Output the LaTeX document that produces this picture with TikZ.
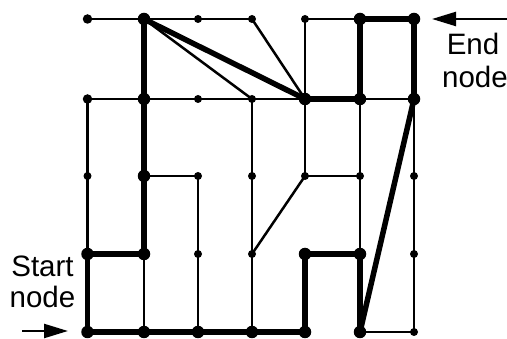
\documentclass[tikz,border=0pt]{standalone}
\usepackage{fontspec}
\setmainfont{Liberation Sans}
\usetikzlibrary{arrows.meta}
\begin{document}
\begin{tikzpicture}[x=1pt,y=-1pt,
  thinedge/.style={line width=2.5pt},
  thickedge/.style={line width=5.5pt,line cap=round},
  dotS/.style={circle,fill=black,inner sep=0pt,minimum size=8pt},
  dotM/.style={circle,fill=black,inner sep=0pt,minimum size=9.5pt},
  dotB/.style={circle,fill=black,inner sep=0pt,minimum size=12.5pt},
  lbl/.style={inner sep=0pt,anchor=base,font=\fontsize{29.5}{32}\selectfont},
  pointer/.style={line width=2.3pt,-{Triangle[length=24pt,width=14pt]}}]
\useasboundingbox (0,0) rectangle (507,339);
% grid coordinates
\foreach \c/\x in {0/87.5,1/144,2/198,3/252,4/305,5/360,6/414}{
  \foreach \r/\y in {0/19,1/99,2/176,3/254,4/332}{
    \coordinate (p\c\r) at (\x,\y);
  }
}
% thin edges
\draw[thinedge] (p00) -- (p10) -- (p20) -- (p30);
\draw[thinedge] (p40) -- (p50);
\draw[thinedge] (p10) -- (p31);
\draw[thinedge] (p30) -- (p41);
\draw[thinedge] (p40) -- (p41);
\draw[thinedge] (p01) -- (p11) -- (p21) -- (p31) -- (p41);
\draw[thinedge] (p51) -- (p61);
\draw[thinedge] (p01) -- (p03);
\draw[thinedge] (p13) -- (p14);
\draw[thinedge] (p22) -- (p24);
\draw[thinedge] (p31) -- (p34);
\draw[thinedge] (p41) -- (p42);
\draw[thinedge] (p42) -- (p33);
\draw[thinedge] (p12) -- (p22);
\draw[thinedge] (p42) -- (p52);
\draw[thinedge] (p51) -- (p53);
\draw[thinedge] (p61) -- (p64);
\draw[thinedge] (p54) -- (p64);
% thick edges (path)
\draw[thickedge] (p50) -- (p60);
\draw[thickedge] (p10) -- (p11);
\draw[thickedge] (p50) -- (p51);
\draw[thickedge] (p60) -- (p61);
\draw[thickedge] (p10) -- (p41);
\draw[thickedge] (p41) -- (p51);
\draw[thickedge] (p61) -- (p54);
\draw[thickedge] (p11) -- (p13);
\draw[thickedge] (p03) -- (p13);
\draw[thickedge] (p03) -- (p04);
\draw[thickedge] (p04) -- (p14) -- (p24) -- (p34) -- (p44);
\draw[thickedge] (p43) -- (p53);
\draw[thickedge] (p43) -- (p44);
\draw[thickedge] (p53) -- (p54);
% dots
\node[dotM] (n00) at (p00) {};
\node[dotB] (n10) at (p10) {};
\node[dotS] (n20) at (p20) {};
\node[dotS] (n30) at (p30) {};
\node[dotS] (n40) at (p40) {};
\node[dotB] (n50) at (p50) {};
\node[dotB] (n60) at (p60) {};
\node[dotM] (n01) at (p01) {};
\node[dotB] (n11) at (p11) {};
\node[dotS] (n21) at (p21) {};
\node[dotS] (n31) at (p31) {};
\node[dotB] (n41) at (p41) {};
\node[dotB] (n51) at (p51) {};
\node[dotB] (n61) at (p61) {};
\node[dotS] (n02) at (p02) {};
\node[dotB] (n12) at (p12) {};
\node[dotS] (n22) at (p22) {};
\node[dotS] (n32) at (p32) {};
\node[dotS] (n42) at (p42) {};
\node[dotS] (n52) at (p52) {};
\node[dotS] (n62) at (p62) {};
\node[dotB] (n03) at (p03) {};
\node[dotB] (n13) at (p13) {};
\node[dotS] (n23) at (p23) {};
\node[dotS] (n33) at (p33) {};
\node[dotB] (n43) at (p43) {};
\node[dotB] (n53) at (p53) {};
\node[dotS] (n63) at (p63) {};
\node[dotB] (n04) at (p04) {};
\node[dotB] (n14) at (p14) {};
\node[dotB] (n24) at (p24) {};
\node[dotB] (n34) at (p34) {};
\node[dotB] (n44) at (p44) {};
\node[dotB] (n54) at (p54) {};
\node[dotS] (n64) at (p64) {};
% labels and pointers
\node[lbl] (start1) at (42.5,277) {Start};
\node[lbl] (start2) at (42.5,307.5) {node};
\node[lbl] (end1) at (473,55) {End};
\node[lbl] (end2) at (475,88) {node};
\coordinate (sTail) at (22,331);
\coordinate (sTip) at (68,331);
\coordinate (eTail) at (507,19);
\coordinate (eTip) at (432,19);
\draw[pointer] (sTail) -- (sTip);
\draw[pointer] (eTail) -- (eTip);
\end{tikzpicture}
\end{document}
